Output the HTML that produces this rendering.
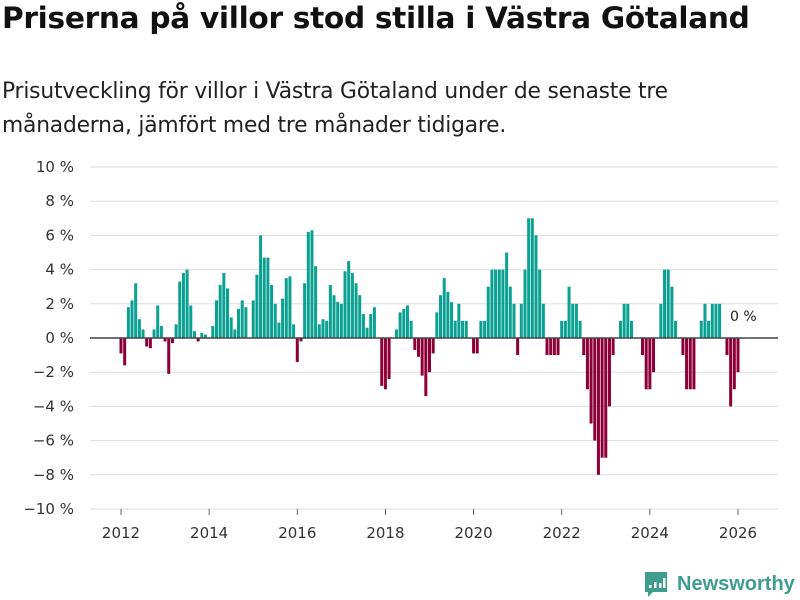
<!DOCTYPE html>
<html><head><meta charset="utf-8"><style>
body{margin:0;background:#fff;font-family:"Liberation Sans","DejaVu Sans",sans-serif;}
#wrap{position:relative;width:800px;height:600px;overflow:hidden;}
h1{position:absolute;left:2px;top:1px;margin:0;font-size:29.6px;font-weight:bold;color:#111;font-family:"DejaVu Sans","Liberation Sans",sans-serif;letter-spacing:-0.3px}
p.sub{position:absolute;left:2px;top:75px;margin:0;font-size:21.8px;line-height:34px;color:#222;font-family:"DejaVu Sans","Liberation Sans",sans-serif;letter-spacing:-0.2px}
</style></head><body>
<div id="wrap">
<h1>Priserna på villor stod stilla i Västra Götaland</h1>
<p class="sub">Prisutveckling för villor i Västra Götaland under de senaste tre<br>månaderna, jämfört med tre månader tidigare.</p>
<svg id="chart" width="800" height="600" style="position:absolute;left:0;top:0"></svg>
</div>
<script>
const values=[-0.9,-1.6,1.8,2.2,3.2,1.1,0.5,-0.5,-0.6,0.5,1.9,0.7,
-0.2,-2.1,-0.3,0.8,3.3,3.8,4.0,1.9,0.4,-0.2,0.3,0.2,
0,0.7,2.2,3.1,3.8,2.9,1.2,0.5,1.7,2.2,1.8,0,
2.2,3.7,6.0,4.7,4.7,3.1,2.0,0.9,2.3,3.5,3.6,0.8,
-1.4,-0.2,3.2,6.2,6.3,4.2,0.8,1.1,1.0,3.1,2.5,2.1,
2.0,3.9,4.5,3.8,3.2,2.5,1.4,0.6,1.4,1.8,0,-2.8,
-3.0,-2.4,0,0.5,1.5,1.7,1.9,1.0,-0.7,-1.1,-2.2,-3.4,
-2.0,-0.9,1.5,2.5,3.5,2.7,2.1,1.0,2.0,1.0,1.0,0,
-0.9,-0.9,1.0,1.0,3.0,4.0,4.0,4.0,4.0,5.0,3.0,2.0,
-1,2,4,7,7,6,4,2,-1,-1,-1,-1,
1,1,3,2,2,1,-1,-3,-5,-6,-8,-7,
-7,-4,-1,0,1,2,2,1,0,0,-1,-3,
-3,-2,0,2,4,4,3,1,0,-1,-3,-3,
-3,0,1,2,1,2,2,2,0,-1,-4,-3,
-2];
const startYear=2012;
const yTicks=[-10,-8,-6,-4,-2,0,2,4,6,8,10];
const xTickYears=[2012,2014,2016,2018,2020,2022,2024,2026];
const lastLabel="0 %";

const svg=document.getElementById('chart');
const NS='http://www.w3.org/2000/svg';
function y(v){return 338-v*17.1;}
function x(i){return 121+i*(617/168);}
function mk(t,a){const e=document.createElementNS(NS,t);for(const k in a)e.setAttribute(k,a[k]);svg.appendChild(e);return e;}
yTicks.forEach(t=>{
  if(t!==0){const l=mk('line',{x1:90,x2:778,y1:y(t),y2:y(t),stroke:'#ddd','stroke-width':1});
  
  }
  const tx=mk('text',{x:74,y:y(t)+5,'text-anchor':'end','font-size':15,fill:'#333','font-family':'DejaVu Sans, Liberation Sans, sans-serif'});
  tx.textContent=(t<0?'\u2212'+(-t):t)+' %';
  
  
});
xTickYears.forEach(yr=>{
  const i=(yr-startYear)*12;
  const tk=mk('line',{x1:x(i),x2:x(i),y1:509,y2:515,stroke:'#666','stroke-width':1});
  
  
  const tx=mk('text',{x:x(i),y:538,'text-anchor':'middle','font-size':15,fill:'#333','font-family':'DejaVu Sans, Liberation Sans, sans-serif'});
  tx.textContent=yr;
  
  
});
values.forEach((v,i)=>{
  if(v===0)return;
  const r=mk('rect',{x:x(i)-1.5,width:3,y:Math.min(y(v),y(0)),height:Math.abs(y(v)-y(0)),fill:v>0?'#0aa192':'#8c0037'});
  
  
});
const zl=mk('line',{x1:90,x2:778,y1:y(0),y2:y(0),stroke:'#444','stroke-width':1.5});


const ll=mk('text',{x:x(values.length-1)-8,y:321,'font-size':14,fill:'#222','font-family':'DejaVu Sans, Liberation Sans, sans-serif'});
ll.textContent=lastLabel;


// logo
const g=mk('g',{});


const b=document.createElementNS(NS,'path');
b.setAttribute('d','M645 572 h22 v20 h-14 l-5 5 v-5 h-3 z');b.setAttribute('fill','#3f9d8e');g.appendChild(b);
[[649,585,3],[654,582,6],[659,583,5],[663,578,10]].forEach(a=>{const r=document.createElementNS(NS,'rect');r.setAttribute('x',a[0]);r.setAttribute('y',a[1]);r.setAttribute('width',2.5);r.setAttribute('height',a[2]);r.setAttribute('fill','#fff');g.appendChild(r);});
const lt=document.createElementNS(NS,'text');
lt.setAttribute('x',677);lt.setAttribute('y',590);lt.setAttribute('font-size',20);lt.setAttribute('font-weight','bold');lt.setAttribute('fill','#3f9d8e');lt.setAttribute('font-family','Liberation Sans, sans-serif');
lt.textContent='Newsworthy';g.appendChild(lt);
</script>
</body></html>
